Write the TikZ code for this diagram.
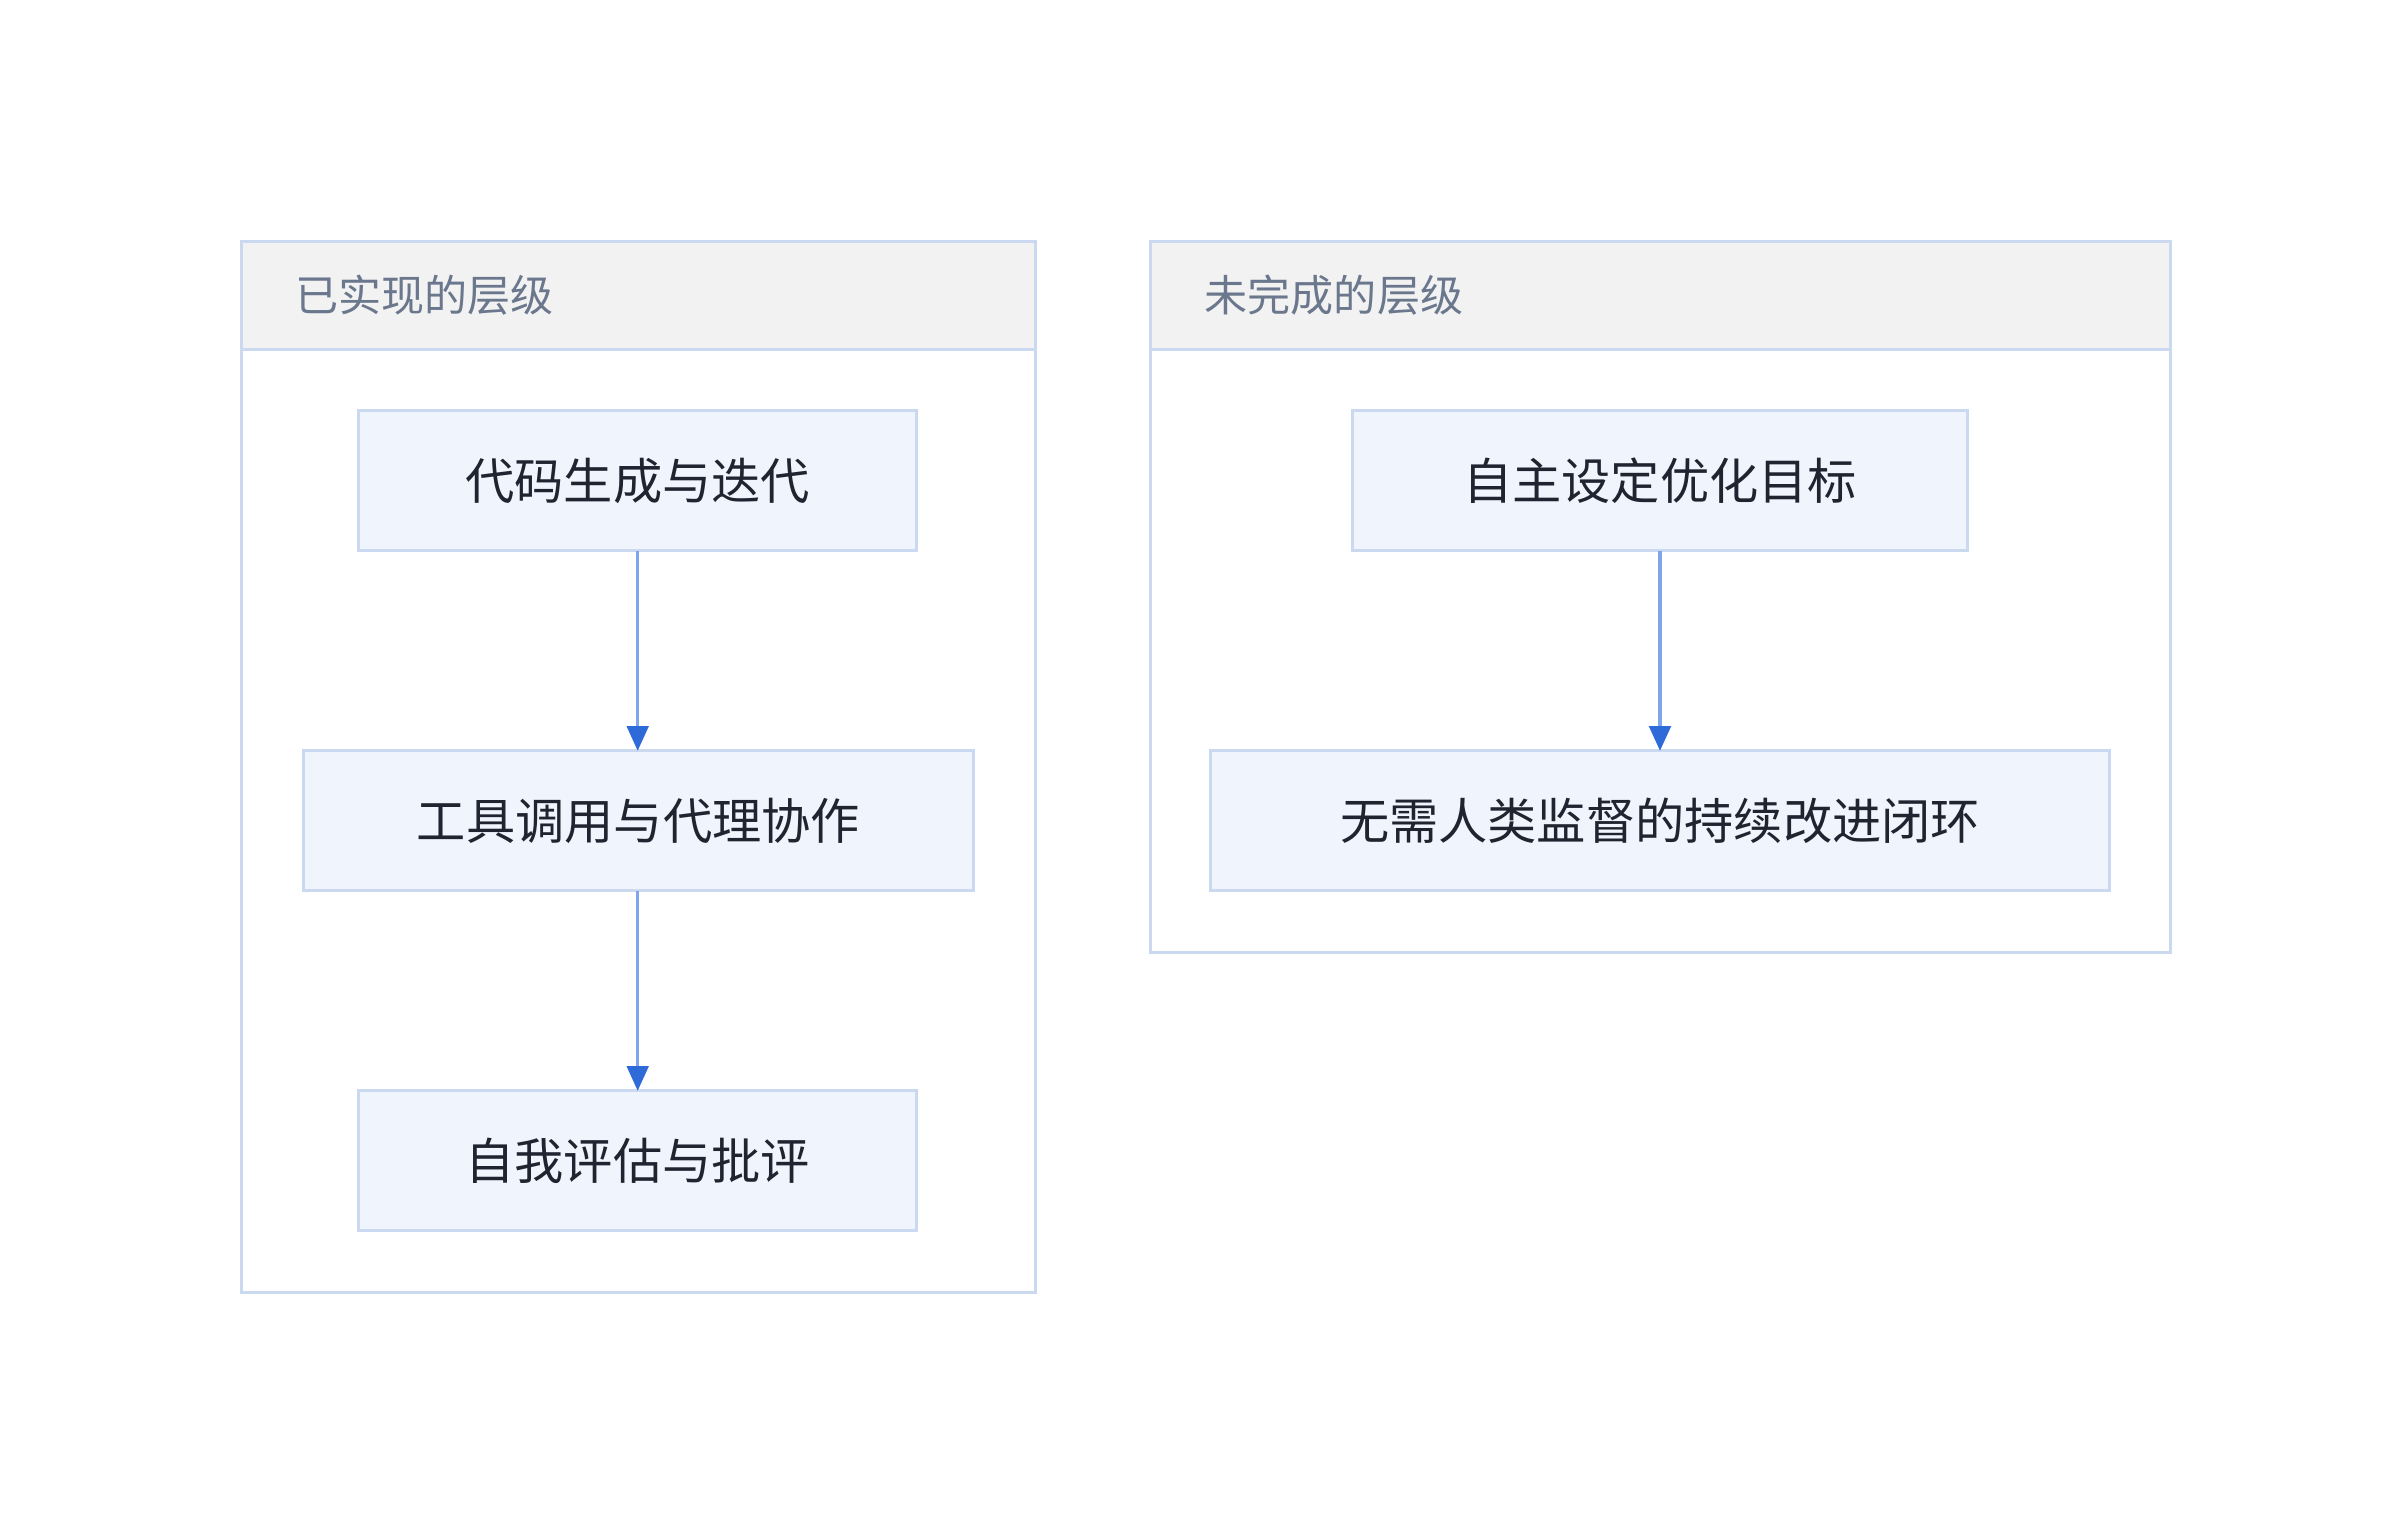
\documentclass[tikz,border=0pt]{standalone}
\usepackage{fontspec}
\setmainfont{Noto Sans CJK SC}
\usetikzlibrary{arrows.meta}
\definecolor{bd}{HTML}{CAD9F0}
\definecolor{nf}{HTML}{F0F5FD}
\definecolor{hf}{HTML}{F2F2F2}
\definecolor{ht}{HTML}{6A778C}
\definecolor{tx}{HTML}{1F2530}
\definecolor{ln}{HTML}{7FA6EC}
\definecolor{tp}{HTML}{2F6AD9}
\tikzset{
 box/.style={draw=bd,line width=1pt,fill=nf},
 lbl/.style={text=tx,font=\fontsize{16}{18}\selectfont},
 hdr/.style={text=ht,font=\fontsize{14}{16}\selectfont,anchor=west},
 arr/.style={draw=ln,line width=1pt,-{Triangle[length=8pt,width=7pt,fill=tp,color=tp]}}
}
\begin{document}
\begin{tikzpicture}[x=0.5pt,y=-0.5pt]
\useasboundingbox (0,0) rectangle (1560,993);
% clusters
\draw[bd,line width=1pt,fill=white] (157,157) rectangle (673,840);
\draw[bd,line width=1pt,fill=hf] (157,157) rectangle (673,227);
\node[hdr] (h1) at (185,192) {已实现的层级};
\draw[bd,line width=1pt,fill=white] (748,157) rectangle (1411,619);
\draw[bd,line width=1pt,fill=hf] (748,157) rectangle (1411,227);
\node[hdr] (h2) at (776,192) {未完成的层级};
% nodes
\draw[box] (233,267) rectangle (596,358); \node[lbl] (a) at (414.5,312.5) {代码生成与迭代};
\draw[box] (197,488) rectangle (633,579); \node[lbl] (b) at (415,533.5) {工具调用与代理协作};
\draw[box] (233,709) rectangle (596,800); \node[lbl] (c) at (414.5,754.5) {自我评估与批评};
\draw[box] (879,267) rectangle (1279,358); \node[lbl] (d) at (1079,312.5) {自主设定优化目标};
\draw[box] (787,488) rectangle (1371,579); \node[lbl] (e) at (1079,533.5) {无需人类监督的持续改进闭环};
\coordinate (a1) at (414.5,358); \coordinate (b0) at (414.5,488);
\coordinate (b1) at (414.5,579); \coordinate (c0) at (414.5,709);
\coordinate (d1) at (1079,358); \coordinate (e0) at (1079,488);
\draw[arr] (a1) -- (b0);
\draw[arr] (b1) -- (c0);
\draw[arr] (d1) -- (e0);
\end{tikzpicture}
\end{document}
